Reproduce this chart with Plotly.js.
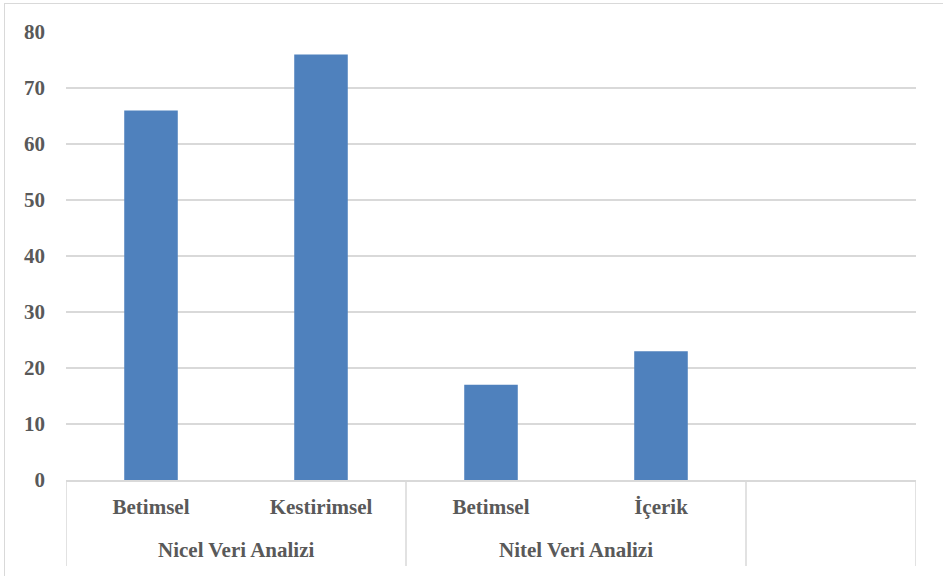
<!DOCTYPE html>
<html>
<head>
<meta charset="utf-8">
<script src="https://cdn.plot.ly/plotly-3.0.1.min.js"></script>
<style>
  html, body { margin: 0; padding: 0; background: #fff; }
  #wrap { position: relative; width: 943px; height: 576px; }
  #chart { width: 943px; height: 576px; }
  #frame { position: absolute; left: 4px; top: 3px; width: 950px; height: 600px;
           border-left: 1.5px solid #D9D9D9; border-top: 1.5px solid #D9D9D9; pointer-events: none; }
</style>
</head>
<body>
<div id="wrap">
  <div id="chart"></div>
  <div id="frame"></div>
</div>
<script>
// Data
const subLabels = ["Betimsel", "Kestirimsel", "Betimsel", "İçerik"];
const groupLabels = ["Nicel Veri Analizi", "Nitel Veri Analizi"];
const groupCenters = [0.5, 2.5];
const groupDividers = [-0.5, 1.5, 3.5, 4.5];
const values = [66, 76, 17, 23];
const yTicks = [0, 10, 20, 30, 40, 50, 60, 70, 80];

const xIdx = subLabels.map((_, i) => i);
const fontFam = "'Liberation Serif', 'Times New Roman', serif";
const txtColor = "#595959";
const gridColor = "#D9D9D9";

const trace = {
  type: "bar",
  x: xIdx,
  y: values,
  width: 0.315,
  marker: { color: "#4F81BD", line: { color: "#4F81BD", width: 0 } },
  hoverinfo: "y"
};

const shapes = groupDividers.map(xv => ({
  type: "line", xref: "x", yref: "paper",
  x0: xv, x1: xv, y0: 0, y1: -86 / 448,
  line: { color: gridColor, width: 1.5 }
}));

const annotations = groupLabels.map((t, i) => ({
  xref: "x", yref: "paper", x: groupCenters[i], y: -70 / 448,
  text: "<b>" + t + "</b>", showarrow: false,
  xanchor: "center", yanchor: "middle",
  font: { family: fontFam, size: 21, color: txtColor }
}));

const layout = {
  width: 943, height: 576,
  margin: { l: 66, r: 27, t: 32, b: 96 },
  paper_bgcolor: "#ffffff",
  plot_bgcolor: "#ffffff",
  showlegend: false,
  xaxis: {
    range: [-0.5, 4.5],
    tickmode: "array",
    tickvals: xIdx,
    ticktext: subLabels.map(s => "<b>" + s + "</b>"),
    ticks: "", showgrid: false, zeroline: false,
    showline: true, linecolor: gridColor, linewidth: 1.5,
    tickfont: { family: fontFam, size: 21, color: txtColor },
    ticklabelstandoff: 7,
    fixedrange: true
  },
  yaxis: {
    range: [0, 80],
    tickmode: "array",
    tickvals: yTicks,
    ticktext: yTicks.map(v => "<b>" + v + "</b>"),
    showgrid: true, gridcolor: gridColor, gridwidth: 1.5,
    zeroline: false, showline: false, ticks: "",
    tickfont: { family: fontFam, size: 21, color: txtColor },
    ticklabelstandoff: 20,
    fixedrange: true
  },
  shapes: shapes,
  annotations: annotations
};

Plotly.newPlot("chart", [trace], layout, { displayModeBar: false, staticPlot: true });
</script>
</body>
</html>
